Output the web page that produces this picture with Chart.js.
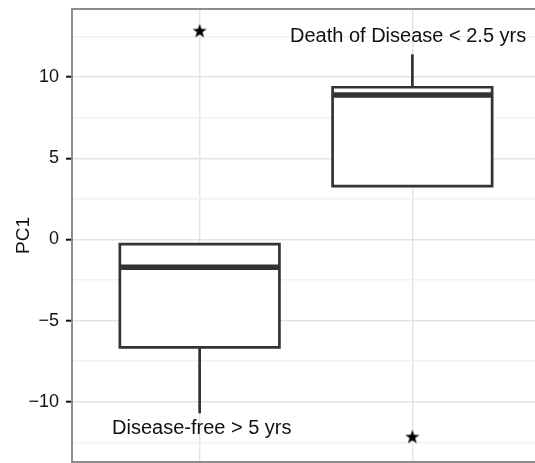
<!DOCTYPE html>
<html>
<head>
<meta charset="utf-8">
<script src="https://cdn.jsdelivr.net/npm/chart.js@4.4.0/dist/chart.umd.min.js"></script>
<style>
html, body { margin:0; padding:0; background:#fff; overflow:hidden; }
#wrap { position:absolute; left:0; top:0; width:545px; height:463px; }
</style>
</head>
<body>
<div id="wrap"><canvas id="chart"></canvas></div>
<script>
// box stats
const groups = ['Disease-free > 5 yrs', 'Death of Disease < 2.5 yrs'];
const groupX = [1, 2];
const lowerWhisker = [-10.7, 3.28];
const q1 = [-6.65, 3.28];
const median = [-1.72, 8.89];
const q3 = [-0.29, 9.37];
const upperWhisker = [-0.29, 11.4];
const starX = [1, 2];
const starY = [12.86, -12.14];
const labelX = [1.01, 1.98];
const labelY = [-11.62, 12.49];
const yTicks = [-10, -5, 0, 5, 10];

const halfW = 0.375;
const lineCol = '#333333';
const FONT = '"Liberation Sans", Arial, sans-serif';

function starImage(size){
    let c = document.createElement('canvas');
    c.width = size; c.height = size;
    let g = c.getContext('2d');
    let r = size/2 - 0.6, ri = r*0.4;
    let cx = size/2, cy = size/2 + r*0.095;
    g.beginPath();
    for(let i = 0; i < 10; i++){
        let a = -Math.PI/2 + i*Math.PI/5;
        let rr = i%2 ? ri : r;
        g.lineTo(cx + rr*Math.cos(a), cy + rr*Math.sin(a));
    }
    g.closePath();
    g.fillStyle = '#000';
    g.fill();
    return c;
}

let datasets = [];
groupX.forEach((gx, i) => {
    // median
    datasets.push({
        data: [{x: gx-halfW, y: median[i]}, {x: gx+halfW, y: median[i]}],
        borderColor: lineCol, borderWidth: 5.5, pointRadius: 0, order: 1
    });
    // box
    datasets.push({
        data: [
            {x: gx-halfW, y: q1[i]}, {x: gx+halfW, y: q1[i]},
            {x: gx+halfW, y: q3[i]}, {x: gx-halfW, y: q3[i]},
            {x: gx-halfW, y: q1[i]}
        ],
        borderColor: lineCol, borderWidth: 2.7, pointRadius: 0,
        fill: 'shape', backgroundColor: '#ffffff',
        borderCapStyle: 'square', borderJoinStyle: 'miter', order: 2
    });
    // whiskers
    if(lowerWhisker[i] < q1[i]){
        datasets.push({
            data: [{x: gx, y: q1[i]}, {x: gx, y: lowerWhisker[i]}],
            borderColor: lineCol, borderWidth: 2.7, pointRadius: 0, order: 3
        });
    }
    if(upperWhisker[i] > q3[i]){
        datasets.push({
            data: [{x: gx, y: q3[i]}, {x: gx, y: upperWhisker[i]}],
            borderColor: lineCol, borderWidth: 2.7, pointRadius: 0, order: 3
        });
    }
});

datasets.push({
    data: starX.map((x, i) => ({x: x, y: starY[i]})),
    showLine: false,
    pointStyle: starImage(16),
    pointRadius: 8,
    order: 0
});

const labelPlugin = {
    id: 'labels',
    afterDatasetsDraw(chart){
        const {ctx, scales: {x, y}} = chart;
        ctx.save();
        ctx.font = '20px ' + FONT;
        ctx.fillStyle = '#111';
        ctx.textAlign = 'center';
        ctx.textBaseline = 'middle';
        groups.forEach((g, i) => {
            ctx.fillText(g, x.getPixelForValue(labelX[i]), y.getPixelForValue(labelY[i]));
        });
        ctx.restore();
    }
};

const framePlugin = {
    id: 'frame',
    afterDraw(chart){
        const {ctx, chartArea: a} = chart;
        ctx.save();
        ctx.strokeStyle = '#8c8c8c';
        ctx.lineWidth = 2;
        ctx.strokeRect(a.left, a.top, a.right - a.left, a.bottom - a.top);
        ctx.restore();
    }
};

new Chart(document.getElementById('chart'), {
    type: 'line',
    data: {datasets: datasets},
    options: {
        responsive: true,
        maintainAspectRatio: false,
        animation: false,
        layout: {autoPadding: false, padding: {top: 9, bottom: 1, left: 0, right: 5}},
        plugins: {legend: {display: false}, tooltip: {enabled: false}},
        scales: {
            x: {
                type: 'linear', min: 0.4, max: 2.6,
                afterBuildTicks: (s) => { s.ticks = groupX.map(v => ({value: v})); },
                afterFit: (s) => { s.height = 0; s.paddingLeft = 0; s.paddingRight = 0; },
                ticks: {display: false},
                border: {display: false},
                grid: {color: '#e3e3e3', lineWidth: 1.4, drawTicks: false}
            },
            y: {
                min: -13.71, max: 14.19,
                afterFit: (s) => { s.width = 72; s.paddingTop = 0; s.paddingBottom = 0; },
                border: {display: false},
                ticks: {
                    stepSize: 2.5, includeBounds: false, autoSkip: false,
                    padding: 7, color: '#111',
                    font: {family: FONT, size: 18},
                    callback: (v) => yTicks.includes(v) ? String(v).replace('-', '\u2212') : ''
                },
                grid: {
                    color: (c) => yTicks.includes(c.tick.value) ? '#e3e3e3' : '#f1f1f1',
                    lineWidth: 1.4,
                    tickLength: 6,
                    tickWidth: 2,
                    tickColor: (c) => yTicks.includes(c.tick.value) ? '#111' : 'rgba(0,0,0,0)'
                },
                title: {
                    display: true, text: 'PC1', color: '#111',
                    font: {family: FONT, size: 19},
                    padding: {top: 12, bottom: 0}
                }
            }
        }
    },
    plugins: [labelPlugin, framePlugin]
});
</script>
</body>
</html>
